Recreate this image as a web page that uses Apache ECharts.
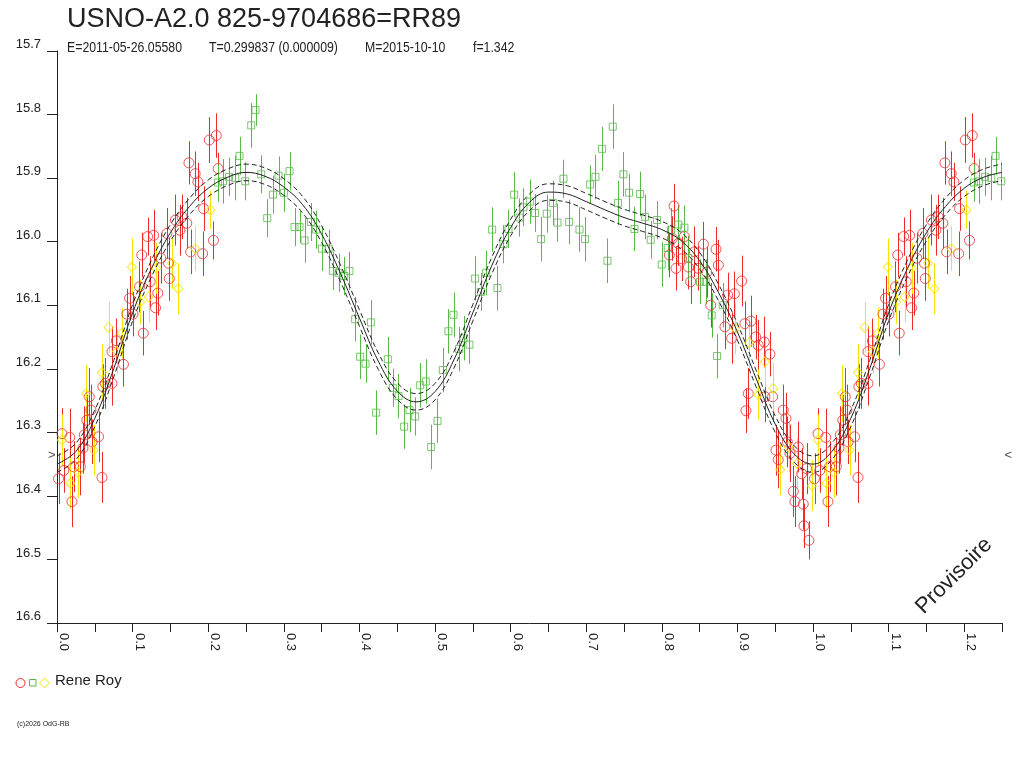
<!DOCTYPE html>
<html>
<head>
<meta charset="utf-8">
<title>USNO-A2.0 825-9704686=RR89</title>
<script src="https://cdn.jsdelivr.net/npm/echarts@6.0.0/dist/echarts.min.js"></script>
<style>
  html,body{margin:0;padding:0;background:#fff;}
  #chart{width:1024px;height:768px;}
</style>
</head>
<body>
<div id="chart"></div>
<script>
// observations: [phase, magnitude, error]
const redObs = [
  [0.0020,16.373,0.040],[0.0066,16.302,0.040],[0.0090,16.360,0.035],[0.0168,16.308,0.045],
  [0.0198,16.409,0.040],[0.0220,16.354,0.040],[0.0308,16.354,0.045],[0.0343,16.325,0.040],
  [0.0362,16.304,0.045],[0.0394,16.281,0.040],[0.0427,16.244,0.045],[0.0449,16.265,0.040],
  [0.0465,16.315,0.035],[0.0550,16.307,0.040],[0.0595,16.371,0.040],[0.0606,16.228,0.035],
  [0.0639,16.223,0.040],[0.0727,16.223,0.035],[0.0727,16.173,0.040],[0.0785,16.156,0.035],
  [0.0879,16.193,0.035],[0.0925,16.114,0.040],[0.0960,16.089,0.035],[0.1005,16.114,0.035],
  [0.1091,16.071,0.040],[0.1121,16.021,0.035],[0.1141,16.144,0.035],[0.1199,15.992,0.030],
  [0.1232,16.063,0.040],[0.1278,15.990,0.040],[0.1303,16.104,0.035],[0.1333,16.081,0.035],
  [0.1374,16.026,0.040],[0.1454,15.987,0.040],[0.1475,16.034,0.040],[0.1485,16.058,0.035],
  [0.1566,15.966,0.040],[0.1626,15.982,0.040],[0.1656,15.961,0.035],[0.1717,15.971,0.040],
  [0.1745,15.876,0.034],[0.1768,16.016,0.035],[0.1828,15.893,0.035],[0.1864,15.906,0.030],
  [0.1926,16.019,0.035],[0.1939,15.948,0.035],[0.2014,15.840,0.036],[0.2070,15.998,0.030],
  [0.2107,15.833,0.035],[0.2131,15.885,0.025],
  [0.8100,16.021,0.035],[0.8140,15.995,0.035],[0.8162,15.944,0.035],[0.8188,16.042,0.035],
  [0.8219,16.003,0.035],[0.8263,16.027,0.035],[0.8298,15.992,0.040],[0.8352,16.040,0.035],
  [0.8382,16.063,0.035],[0.8431,16.016,0.040],[0.8484,16.042,0.035],[0.8550,16.004,0.035],
  [0.8594,16.048,0.040],[0.8647,16.100,0.035],[0.8717,16.012,0.035],[0.8748,16.037,0.040],
  [0.8835,16.134,0.035],[0.8871,16.084,0.035],[0.8924,16.152,0.040],[0.8960,16.082,0.035],
  [0.9056,16.062,0.040],[0.9100,16.129,0.035],[0.9113,16.266,0.035],[0.9144,16.239,0.040],
  [0.9180,16.125,0.040],[0.9242,16.150,0.035],[0.9276,16.163,0.040],[0.9356,16.158,0.040],
  [0.9365,16.244,0.040],[0.9430,16.177,0.035],[0.9466,16.244,0.040],[0.9510,16.328,0.040],
  [0.9540,16.343,0.045],[0.9607,16.265,0.040],[0.9642,16.278,0.040],[0.9660,16.315,0.040],
  [0.9695,16.333,0.045],[0.9739,16.393,0.040],[0.9761,16.409,0.040],[0.9805,16.323,0.040],
  [0.9850,16.365,0.040],[0.9871,16.413,0.040],[0.9880,16.447,0.035],[0.9915,16.357,0.040],
  [0.9946,16.470,0.030]
];
const greenObs = [
  [0.2128,15.907,0.030],[0.2195,15.905,0.035],[0.2274,15.898,0.030],[0.2358,15.900,0.035],
  [0.2415,15.865,0.030],[0.2490,15.905,0.030],[0.2569,15.817,0.035],[0.2626,15.793,0.025],
  [0.2701,15.894,0.030],[0.2781,15.963,0.030],[0.2856,15.926,0.030],[0.2930,15.896,0.030],
  [0.3001,15.923,0.030],[0.3076,15.889,0.030],[0.3142,15.977,0.030],[0.3208,15.977,0.025],
  [0.3274,15.998,0.035],[0.3358,15.969,0.030],[0.3428,15.981,0.030],[0.3504,16.011,0.035],
  [0.3592,16.011,0.030],[0.3649,16.046,0.030],[0.3724,16.049,0.030],[0.3799,16.054,0.030],
  [0.3869,16.046,0.030],[0.3944,16.122,0.035],[0.4011,16.181,0.035],[0.4081,16.192,0.030],
  [0.4152,16.127,0.035],[0.4222,16.269,0.035],[0.4376,16.185,0.035],[0.4442,16.230,0.030],
  [0.4517,16.243,0.035],[0.4592,16.291,0.035],[0.4663,16.265,0.035],[0.4738,16.275,0.030],
  [0.4804,16.226,0.035],[0.4878,16.220,0.035],[0.4949,16.323,0.035],[0.5033,16.282,0.035],
  [0.5104,16.202,0.035],[0.5178,16.141,0.035],[0.5245,16.115,0.035],[0.5320,16.169,0.035],
  [0.5377,16.152,0.035],[0.5456,16.162,0.030],[0.5531,16.058,0.035],[0.5606,16.079,0.030],
  [0.5677,16.049,0.035],[0.5756,15.981,0.035],[0.5826,16.073,0.035],[0.5906,16.004,0.030],
  [0.5972,15.980,0.030],[0.6047,15.926,0.035],[0.6117,15.962,0.030],[0.6170,15.946,0.030],
  [0.6258,15.937,0.035],[0.6324,15.955,0.030],[0.6404,15.996,0.035],[0.6478,15.956,0.030],
  [0.6558,15.939,0.035],[0.6620,15.970,0.030],[0.6699,15.901,0.030],[0.6774,15.969,0.035],
  [0.6911,15.981,0.035],[0.6985,15.996,0.035],[0.7052,15.910,0.030],[0.7122,15.898,0.035],
  [0.7210,15.854,0.035],[0.7281,16.030,0.035],[0.7351,15.819,0.035],[0.7422,15.939,0.035],
  [0.7492,15.894,0.035],[0.7567,15.923,0.030],[0.7638,15.980,0.035],[0.7713,15.925,0.035],
  [0.7779,15.961,0.035],[0.7853,15.997,0.030],[0.7937,15.966,0.030],[0.7999,16.036,0.035],
  [0.8079,16.010,0.035],[0.8123,15.982,0.035],[0.8219,15.973,0.030],[0.8299,15.978,0.035],
  [0.8352,16.026,0.035],[0.8506,16.063,0.035],[0.8581,16.063,0.035],[0.8660,16.116,0.035],
  [0.8731,16.180,0.035],[0.8806,16.100,0.035]
];
const yellowObs = [
  [0.0066,16.312,0.040],[0.0177,16.380,0.040],[0.0278,16.363,0.040],[0.0384,16.239,0.045],
  [0.0485,16.328,0.040],[0.0596,16.206,0.045],[0.0683,16.135,0.040],[0.0793,16.173,0.035],
  [0.0859,16.144,0.040],[0.0990,16.040,0.045],[0.1101,16.095,0.035],[0.1212,16.087,0.040],
  [0.1309,16.042,0.040],[0.1520,16.034,0.040],[0.1606,16.074,0.040],[0.1828,16.011,0.035],
  [0.2030,15.950,0.030],
  [0.8969,16.137,0.040],[0.9153,16.159,0.040],[0.9276,16.241,0.040],[0.9363,16.189,0.040],
  [0.9474,16.231,0.040],[0.9565,16.359,0.040],[0.9676,16.323,0.040],[0.9787,16.349,0.040],
  [0.9986,16.384,0.040]
];

// fitted light curve, sampled every 0.025 in phase from 0 to 1.25
const MODEL_STEP = 0.025;
const modelMag = [
  16.350,16.330,16.278,16.200,16.112,16.042,15.986,15.945,15.916,15.899,15.891,
  15.897,15.914,15.942,15.988,16.050,16.120,16.188,16.235,16.252,16.236,
  16.186,16.112,16.038,15.978,15.938,15.922,15.925,15.937,15.950,15.962,
  15.971,15.981,15.998,16.030,16.080,16.142,16.216,16.287,16.334,16.350,
  16.330,16.278,16.200,16.112,16.042,15.986,15.945,15.916,15.899,15.891
];
const modelUpper = [
  16.337,16.317,16.265,16.187,16.099,16.029,15.973,15.932,15.903,15.886,15.878,
  15.884,15.901,15.929,15.975,16.037,16.107,16.175,16.222,16.239,16.223,
  16.173,16.099,16.025,15.965,15.925,15.909,15.912,15.924,15.937,15.949,
  15.958,15.968,15.985,16.017,16.067,16.129,16.203,16.274,16.321,16.337,
  16.317,16.265,16.187,16.099,16.029,15.973,15.932,15.903,15.886,15.878
];
const modelLower = [
  16.363,16.343,16.291,16.213,16.125,16.055,15.999,15.958,15.929,15.912,15.904,
  15.910,15.927,15.955,16.001,16.063,16.133,16.201,16.248,16.265,16.249,
  16.199,16.125,16.051,15.991,15.951,15.935,15.938,15.950,15.963,15.975,
  15.984,15.994,16.011,16.043,16.093,16.155,16.229,16.300,16.347,16.363,
  16.343,16.291,16.213,16.125,16.055,15.999,15.958,15.929,15.912,15.904
];
const MEAN_MAG = 16.337;
const PHASE_MAX = 1.25;

const RED = "#ee2b2b", GREEN = "#58b947", YELLOW = "#f4e400", INK = "#222";
const SANS = "'Liberation Sans',Arial,sans-serif";
const NARROW_X = 0.82; // header line is set in a narrow face in the original

// phases 0..0.25 are shown a second time after 1.0
const withRepeat = (pts) => pts.concat(pts.filter(p => p[0] <= PHASE_MAX - 1).map(p => [p[0] + 1, p[1], p[2]]));
const modelLine = (arr) => arr.map((m, i) => [i * MODEL_STEP, m]);

function errorBars(pts, color){
  return {
    type: "custom", data: withRepeat(pts), z: 2, silent: true, clip: true,
    encode: { x: 0, y: 1 },
    renderItem: (params, api) => {
      const x = api.value(0), m = api.value(1), e = api.value(2);
      const a = api.coord([x, m - e]), b = api.coord([x, m + e]);
      const px = Math.round(a[0]) + 0.5;
      return { type: "line", shape: { x1: px, y1: a[1], x2: px, y2: b[1] },
               style: { stroke: color, lineWidth: 1 } };
    }
  };
}
function marks(pts, color, symbol, size){
  return {
    type: "scatter", data: withRepeat(pts), z: 3, silent: true, clip: true,
    symbol, symbolSize: size,
    itemStyle: { color: "rgba(0,0,0,0)", borderColor: color, borderWidth: 1 }
  };
}
function curve(arr, dashed){
  return {
    type: "line", data: modelLine(arr), z: 5, silent: true, smooth: 0.4,
    showSymbol: false, symbol: "none",
    lineStyle: { color: INK, width: 1, type: dashed ? [5, 3] : "solid" }
  };
}
const header = (text, x) => ({
  type: "text", x, y: 40, scaleX: NARROW_X,
  style: { text, font: `15px ${SANS}`, fill: INK }
});

const chart = echarts.init(document.getElementById("chart"), null, { renderer: "canvas" });
chart.setOption({
  backgroundColor: "#fff",
  animation: false,
  grid: { left: 57, top: 51, width: 945, height: 572 },
  xAxis: {
    type: "value", min: 0, max: PHASE_MAX, interval: 0.05,
    axisLine: { lineStyle: { color: INK, width: 1 } },
    axisTick: { inside: false, length: 9, lineStyle: { color: INK } },
    splitLine: { show: false },
    axisLabel: {
      rotate: -90, align: "left", verticalAlign: "bottom", margin: 10,
      color: INK, fontFamily: SANS, fontSize: 13,
      formatter: (v) => (Math.round(v * 100) % 10 === 0 ? v.toFixed(1) : "")
    }
  },
  yAxis: {
    type: "value", inverse: true, min: 15.7, max: 16.6, interval: 0.1,
    axisLine: { show: true, lineStyle: { color: INK, width: 1 } },
    axisTick: { show: true, inside: false, length: 10, lineStyle: { color: INK } },
    splitLine: { show: false },
    axisLabel: {
      margin: 16, verticalAlign: "bottom", color: INK, fontFamily: SANS, fontSize: 13,
      formatter: (v) => v.toFixed(1)
    }
  },
  series: [
    errorBars(redObs, RED), marks(redObs, RED, "circle", 10),
    errorBars(greenObs, GREEN), marks(greenObs, GREEN, "rect", 7),
    errorBars(yellowObs, YELLOW), marks(yellowObs, YELLOW, "diamond", [9, 10]),
    curve(modelUpper, true), curve(modelMag, false), curve(modelLower, true),
    {
      // mean magnitude markers at both ends
      type: "scatter", z: 6, silent: true, clip: false, symbolSize: 1,
      itemStyle: { color: "rgba(0,0,0,0)" },
      data: [
        { value: [0, MEAN_MAG], label: { position: "left", distance: 1, formatter: ">" } },
        { value: [PHASE_MAX, MEAN_MAG], label: { position: "right", distance: 2, formatter: "<" } }
      ],
      label: { show: true, color: INK, fontFamily: SANS, fontSize: 13 }
    }
  ],
  graphic: [
    { type: "text", left: 67, top: 6, style: { text: "USNO-A2.0 825-9704686=RR89", font: `27px ${SANS}`, fill: INK } },
    header("E=2011-05-26.05580", 67),
    header("T=0.299837 (0.000009)", 209),
    header("M=2015-10-10", 365),
    header("f=1.342", 473),
    // legend
    { type: "circle", shape: { cx: 20.5, cy: 683, r: 4.5 }, style: { fill: "none", stroke: RED, lineWidth: 1 } },
    { type: "rect", shape: { x: 29.5, y: 679.5, width: 6.5, height: 6.5 }, style: { fill: "none", stroke: GREEN, lineWidth: 1 } },
    { type: "polygon", shape: { points: [[44.5, 678], [49.5, 683], [44.5, 688], [39.5, 683]] }, style: { fill: "none", stroke: YELLOW, lineWidth: 1 } },
    { type: "text", left: 55, top: 673, style: { text: "Rene Roy", font: `15px ${SANS}`, fill: INK } },
    { type: "text", left: 17, top: 721, style: { text: "(c)2026 OdG-RB", font: `7px ${SANS}`, fill: INK } },
    { type: "text", x: 954, y: 576, rotation: Math.PI / 4,
      style: { text: "Provisoire", font: `22px ${SANS}`, fill: INK, align: "center", verticalAlign: "middle" } }
  ]
});
</script>
</body>
</html>
